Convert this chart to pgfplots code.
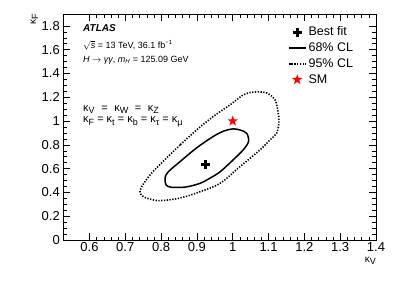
\documentclass[border=0pt]{standalone}
\usepackage{fontspec}
\setmainfont{Liberation Sans}
\usepackage{pgfplots}
\pgfplotsset{compat=1.18}
\newcommand\sub[1]{\raisebox{-0.22em}{\fontsize{9}{10}\selectfont #1}}
\pgfdeclareplotmark{fstar}{%
  \pgfpathmoveto{\pgfpointpolar{90}{\pgfplotmarksize}}%
  \pgfpathlineto{\pgfpointpolar{126}{0.4\pgfplotmarksize}}%
  \pgfpathlineto{\pgfpointpolar{162}{\pgfplotmarksize}}%
  \pgfpathlineto{\pgfpointpolar{198}{0.4\pgfplotmarksize}}%
  \pgfpathlineto{\pgfpointpolar{234}{\pgfplotmarksize}}%
  \pgfpathlineto{\pgfpointpolar{270}{0.4\pgfplotmarksize}}%
  \pgfpathlineto{\pgfpointpolar{306}{\pgfplotmarksize}}%
  \pgfpathlineto{\pgfpointpolar{342}{0.4\pgfplotmarksize}}%
  \pgfpathlineto{\pgfpointpolar{18}{\pgfplotmarksize}}%
  \pgfpathlineto{\pgfpointpolar{54}{0.4\pgfplotmarksize}}%
  \pgfpathclose
  \pgfusepathqfill
}
\begin{document}
\begin{tikzpicture}
\path[use as bounding box] (-63.3pt,-47pt) rectangle (335.7pt,240pt);
\begin{axis}[
  at={(0,0)}, anchor=south west,
  scale only axis, width=312.7pt, height=226pt,
  xmin=0.527, xmax=1.4, ymin=0, ymax=1.9,
  xtick={0.6,0.7,0.8,0.9,1.0,1.1,1.2,1.3,1.4},
  ytick={0,0.2,0.4,0.6,0.8,1.0,1.2,1.4,1.6,1.8},
  minor x tick num=4, minor y tick num=3,
  tick align=inside,
  major tick length=7pt, minor tick length=3.5pt,
  tick style={black, line width=0.5pt},
  axis line style={line width=0.6pt},
  /pgf/number format/assume math mode=true,
  /pgf/number format/fixed, /pgf/number format/precision=1,
  tick label style={font=\fontsize{13}{15}\selectfont},
  xticklabel style={yshift=1pt},
  label style={font=\fontsize{13}{15}\selectfont},
  xlabel={κ\sub{V}},
  ylabel={κ\sub{F}},
  every axis x label/.style={at={(rel axis cs:1,0)}, anchor=north east, yshift=-17pt, inner sep=0pt},
  every axis y label/.style={at={(rel axis cs:0,1)}, xshift=-25pt, rotate=90, anchor=south east, inner sep=0pt},
  legend style={draw=none, fill=none, at={(rel axis cs:0.708,0.962)}, anchor=north west,
    font=\fontsize{12.5}{14}\selectfont, row sep=1.6pt,
    /tikz/every even column/.append style={column sep=2pt}},
  legend cell align=left,
]
\addplot[only marks, mark=+, mark size=4.5pt, mark options={line width=3pt, black}] coordinates {(0.925,0.637)};
\addlegendentry{Best fit}
\addplot[black, line width=1.5pt, smooth, tension=0.55] coordinates {
(0.853,0.659) (0.819,0.570) (0.811,0.519) (0.814,0.463) (0.830,0.443) (0.870,0.446)
(0.909,0.477) (0.937,0.521) (0.965,0.574) (1.001,0.673) (1.029,0.757) (1.044,0.827)
(1.039,0.897) (1.020,0.925) (1.001,0.934) (0.976,0.917) (0.945,0.869) (0.899,0.774)
(0.853,0.659)};
\addlegendentry{68\% CL}
\addplot[black, line width=1.6pt, dash pattern=on 1.3pt off 1.5pt, smooth, tension=0.55] coordinates {
(0.853,0.799) (0.805,0.659) (0.769,0.547) (0.746,0.448) (0.741,0.400) (0.749,0.368)
(0.765,0.347) (0.797,0.331) (0.853,0.353) (0.909,0.406) (0.965,0.477) (1.020,0.616)
(1.076,0.757) (1.104,0.841) (1.123,0.900) (1.129,1.000) (1.127,1.068) (1.118,1.178)
(1.095,1.236) (1.071,1.245) (1.045,1.238) (1.029,1.220) (0.992,1.135) (0.945,1.037)
(0.899,0.925) (0.853,0.799)};
\addlegendentry{95\% CL}
\addplot[only marks, mark=fstar, mark size=5.5pt, red] coordinates {(1,1)};
\addlegendentry{SM}
\node[anchor=west, inner sep=0pt, font=\fontsize{10}{12}\selectfont\bfseries\itshape] at (rel axis cs:0.063,0.937) {ATLAS};
\node[anchor=west, inner sep=0pt, font=\fontsize{9}{11}\selectfont] at (rel axis cs:0.063,0.863) {\smash{$\sqrt{\mbox{\itshape s}}$} = 13 TeV, 36.1 fb\textsuperscript{−1}};
\node[anchor=west, inner sep=0pt, font=\fontsize{9}{11}\selectfont] at (rel axis cs:0.063,0.794) {\textit{H} $\rightarrow$ \textit{γγ}, \textit{m}\textsubscript{\textit{H}} = 125.09 GeV};
\node[anchor=west, inner sep=0pt, font=\fontsize{11}{13}\selectfont] at (rel axis cs:0.063,0.578) {κ\sub{V}\hspace{0.6em}=\hspace{0.6em}κ\sub{W}\hspace{0.6em}=\hspace{0.6em}κ\sub{Z}};
\node[anchor=west, inner sep=0pt, font=\fontsize{11}{13}\selectfont] at (rel axis cs:0.063,0.522) {κ\sub{F} = κ\sub{t} = κ\sub{b} = κ\sub{τ} = κ\sub{μ}};
\end{axis}
\end{tikzpicture}
\end{document}
